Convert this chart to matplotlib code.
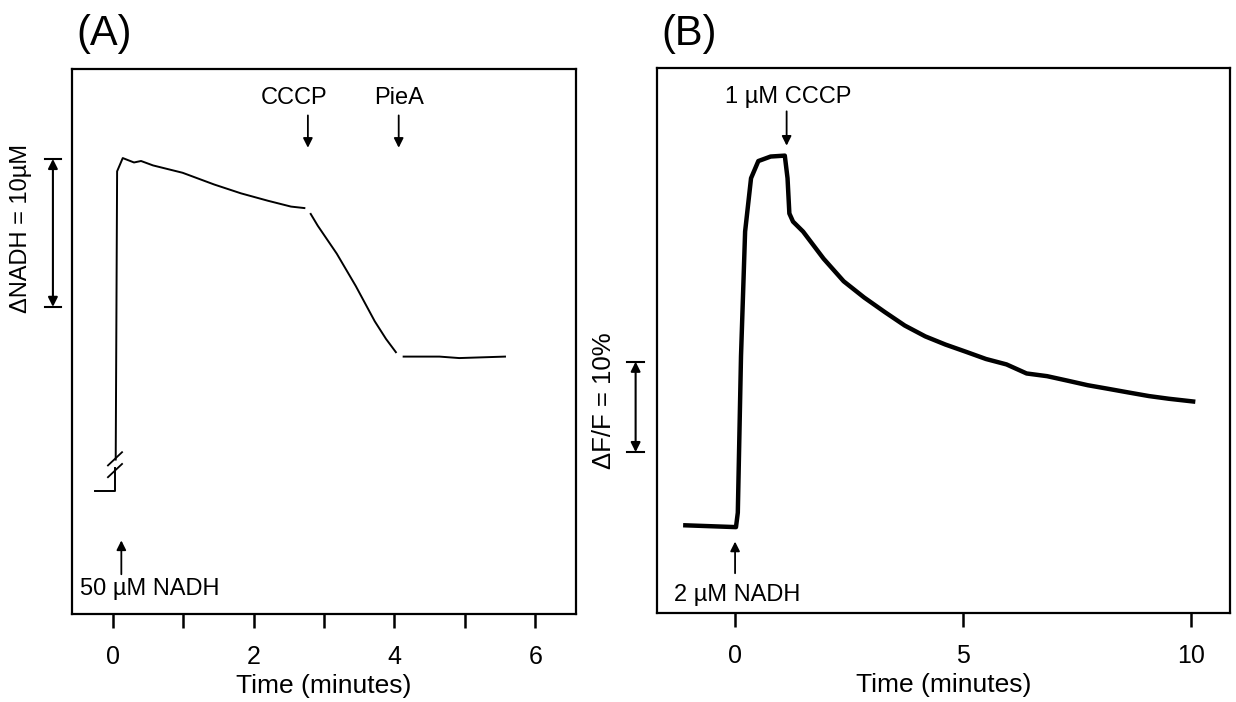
import matplotlib.pyplot as plt

plt.rcParams['font.family'] = ['Liberation Sans', 'DejaVu Sans']

# Panel A: NADH trace (minutes, uM relative)
a_base_t = [-0.25, 0.03, 0.03]
a_base_y = [8.39, 8.39, 9.9]
a_rise_t = [0.04, 0.06, 0.14, 0.30, 0.40, 0.57, 0.99, 1.44, 1.82, 2.20, 2.53, 2.72]
a_rise_y = [10.5, 30.1, 31.0, 30.7, 30.8, 30.5, 30.0, 29.2, 28.6, 28.1, 27.7, 27.6]
a_cccp_t = [2.81, 2.91, 3.18, 3.45, 3.72, 3.88, 4.02]
a_cccp_y = [27.2, 26.4, 24.5, 22.3, 19.9, 18.7, 17.8]
a_piea_t = [4.13, 4.64, 4.92, 5.57]
a_piea_y = [17.5, 17.5, 17.4, 17.5]

# Panel B: fluorescence trace (minutes, % dF/F)
b_t = [-1.09, 0.02, 0.06, 0.13, 0.22, 0.35, 0.51, 0.78, 1.09, 1.15, 1.19, 1.27,
       1.49, 1.94, 2.38, 2.83, 3.28, 3.72, 4.17, 4.61, 5.06, 5.50, 5.95, 6.39,
       6.84, 7.29, 7.73, 8.18, 8.62, 9.07, 9.51, 10.04]
b_y = [9.7, 9.5, 11.1, 28.4, 42.2, 48.1, 50.0, 50.5, 50.6, 48.1, 44.2, 43.3,
       42.2, 39.2, 36.7, 34.9, 33.3, 31.8, 30.6, 29.7, 28.9, 28.1, 27.5, 26.5,
       26.2, 25.7, 25.2, 24.8, 24.4, 24.0, 23.7, 23.4]

a_ticks = [0, 1, 2, 3, 4, 5, 6]
a_ticklabels = ['0', '', '2', '', '4', '', '6']
b_ticks = [0, 5, 10]

fig = plt.figure(figsize=(12.36, 7.02), dpi=100)
axA = fig.add_axes([0.0583, 0.1254, 0.4078, 0.7764])
axB = fig.add_axes([0.5316, 0.1268, 0.4636, 0.7764])

arrow = dict(arrowstyle='-|>', color='k', lw=1.3, mutation_scale=14, shrinkA=0, shrinkB=0)
dbl = dict(arrowstyle='<|-|>', color='k', lw=1.5, mutation_scale=14, shrinkA=0, shrinkB=0)

for ax in (axA, axB):
    for s in ax.spines.values():
        s.set_linewidth(1.6)
    ax.set_yticks([])
    ax.tick_params(axis='x', direction='out', length=10, width=1.8, labelsize=18, pad=12)
    ax.set_xlabel('Time (minutes)', fontsize=19, labelpad=4)

# ---- A ----
axA.plot(a_base_t, a_base_y, color='k', lw=1.4)
axA.plot(a_rise_t, a_rise_y, color='k', lw=1.4)
axA.plot(a_cccp_t, a_cccp_y, color='k', lw=1.4)
axA.plot(a_piea_t, a_piea_y, color='k', lw=1.4)
# axis break marks
for yb in (9.75, 10.55):
    axA.plot([-0.07, 0.13], [yb - 0.45, yb + 0.45], color='k', lw=1.3)
axA.set_xlim(-0.58, 6.58)
axA.set_ylim(0, 37.06)
axA.set_xticks(a_ticks)
axA.set_xticklabels(a_ticklabels)

axA.text(2.58, 35.1, 'CCCP', ha='center', va='center', fontsize=17)
axA.annotate('', xy=(2.77, 31.7), xytext=(2.77, 33.9), arrowprops=arrow)
axA.text(4.07, 35.1, 'PieA', ha='center', va='center', fontsize=17)
axA.annotate('', xy=(4.06, 31.7), xytext=(4.06, 33.9), arrowprops=arrow)
axA.text(0.52, 1.67, '50 µM NADH', ha='center', va='center', fontsize=17)
axA.annotate('', xy=(0.12, 5.0), xytext=(0.12, 2.7), arrowprops=arrow)

# scale bar
axA.annotate('', xy=(-0.852, 30.94), xytext=(-0.852, 20.88), arrowprops=dbl,
             annotation_clip=False)
for yc in (30.94, 20.88):
    axA.plot([-0.97, -0.73], [yc, yc], color='k', lw=1.5, clip_on=False)
axA.text(-1.31, 26.2, 'ΔNADH = 10µM', rotation=90, ha='center', va='center', fontsize=17)

# ---- B ----
axB.plot(b_t, b_y, color='k', lw=3.2)
axB.set_xlim(-1.71, 10.85)
axB.set_ylim(0, 60.3)
axB.set_xticks(b_ticks)

axB.text(1.17, 57.1, '1 µM CCCP', ha='center', va='center', fontsize=17)
axB.annotate('', xy=(1.13, 51.7), xytext=(1.13, 55.5), arrowprops=arrow)
axB.text(0.04, 2.0, '2 µM NADH', ha='center', va='center', fontsize=17)
axB.annotate('', xy=(0.0, 7.9), xytext=(0.0, 4.4), arrowprops=arrow)

axB.annotate('', xy=(-2.18, 27.8), xytext=(-2.18, 17.8), arrowprops=dbl,
             annotation_clip=False)
for yc in (27.8, 17.8):
    axB.plot([-2.36, -2.0], [yc, yc], color='k', lw=1.5, clip_on=False)
axB.text(-2.88, 23.5, 'ΔF/F = 10%', rotation=90, ha='center', va='center', fontsize=18.5)

fig.text(0.0615, 0.952, '(A)', fontsize=30, ha='left', va='center')
fig.text(0.535, 0.952, '(B)', fontsize=30, ha='left', va='center')

fig.savefig('out.png', dpi=100)
